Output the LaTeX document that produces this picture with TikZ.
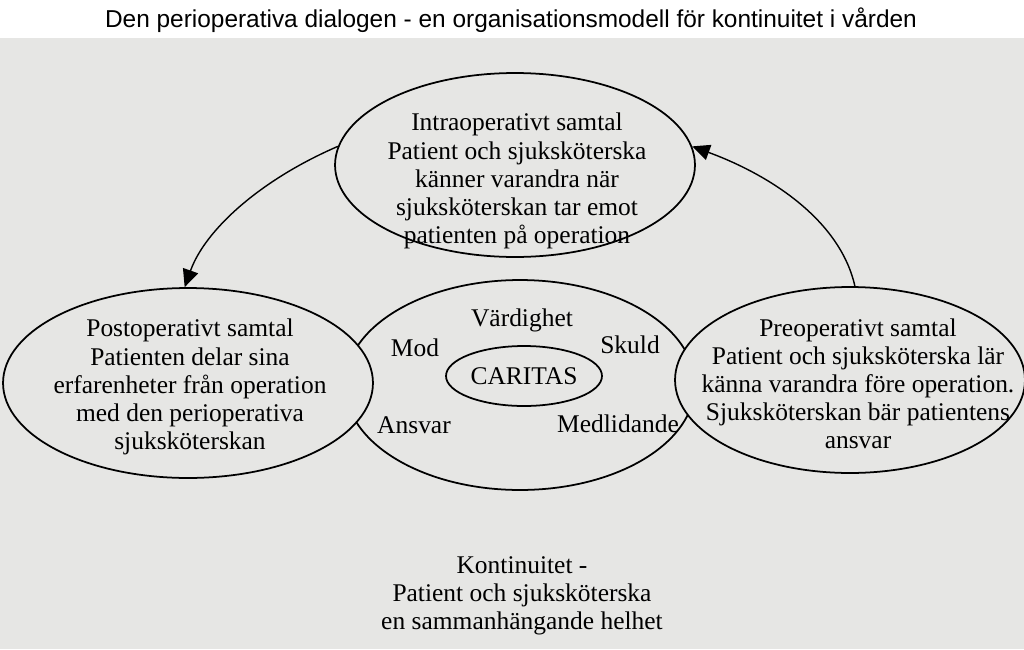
\documentclass[tikz,border=0pt]{standalone}
\usepackage{fontspec}
\setmainfont{Liberation Serif}
\newfontfamily\titlefont{Liberation Sans}
\usetikzlibrary{positioning,arrows.meta,shapes.geometric}
\definecolor{paper}{HTML}{E6E6E4}
\tikzset{
  talk/.style={draw,ellipse,line width=1pt,inner sep=0pt,fill=paper},
  lbl/.style={align=center,font=\fontsize{14.5}{16}\selectfont},
  flow/.style={-{Triangle[length=10pt,width=9pt]},line width=0.8pt}
}
\begin{document}
\begin{tikzpicture}[x=0.02cm,y=-0.02cm]
\useasboundingbox (0,0) rectangle (1024,649);
\fill[paper] (0,38) rectangle (1024,649);
\node[font=\titlefont\fontsize{13.9}{16}\selectfont] (title) at (511,20) {Den perioperativa dialogen - en organisationsmodell för kontinuitet i vården};

\node[talk,minimum width=7cm,minimum height=4.2cm] (core) at (520,385) {};
\node[talk,minimum width=7.2cm,minimum height=3.68cm] (intra) at (515,165) {};
\node[talk,minimum width=7.4cm,minimum height=3.8cm] (post) at (188,383) {};
\node[talk,minimum width=7cm,minimum height=3.72cm] (pre) at (850,380) {};
\node[talk,minimum width=3.12cm,minimum height=1.2cm] (caritas) at (524,376) {};

\node[lbl] (intratext) at (517,181) {Intraoperativt samtal\\Patient och sjuksköterska\\känner varandra när\\sjuksköterskan tar emot\\patienten på operation};
\node[lbl] (posttext) at (190,387) {Postoperativt samtal\\Patienten delar sina\\erfarenheter från operation\\med den perioperativa\\sjuksköterskan};
\node[lbl] (pretext) at (858,384) {Preoperativt samtal\\Patient och sjuksköterska lär\\känna varandra före operation.\\Sjuksköterskan bär patientens\\ansvar};
\node[lbl] at (caritas) {CARITAS};
\node[lbl] (vard) at (522,320) {Värdighet};
\node[lbl] (mod) at (415,348) {Mod};
\node[lbl] (skuld) at (630,345) {Skuld};
\node[lbl] (ansvar) at (414,425) {Ansvar};
\node[lbl] (medl) at (618,424) {Medlidande};
\node[lbl] (kont) at (522,596) {Kontinuitet -\\Patient och sjuksköterska\\en sammanhängande helhet};

\draw[flow] (intra.174) .. controls (260,180) and (205,230) .. (post.92);
\draw[flow] (pre.87) .. controls (840,220) and (770,175) .. (intra.6);
\end{tikzpicture}
\end{document}
